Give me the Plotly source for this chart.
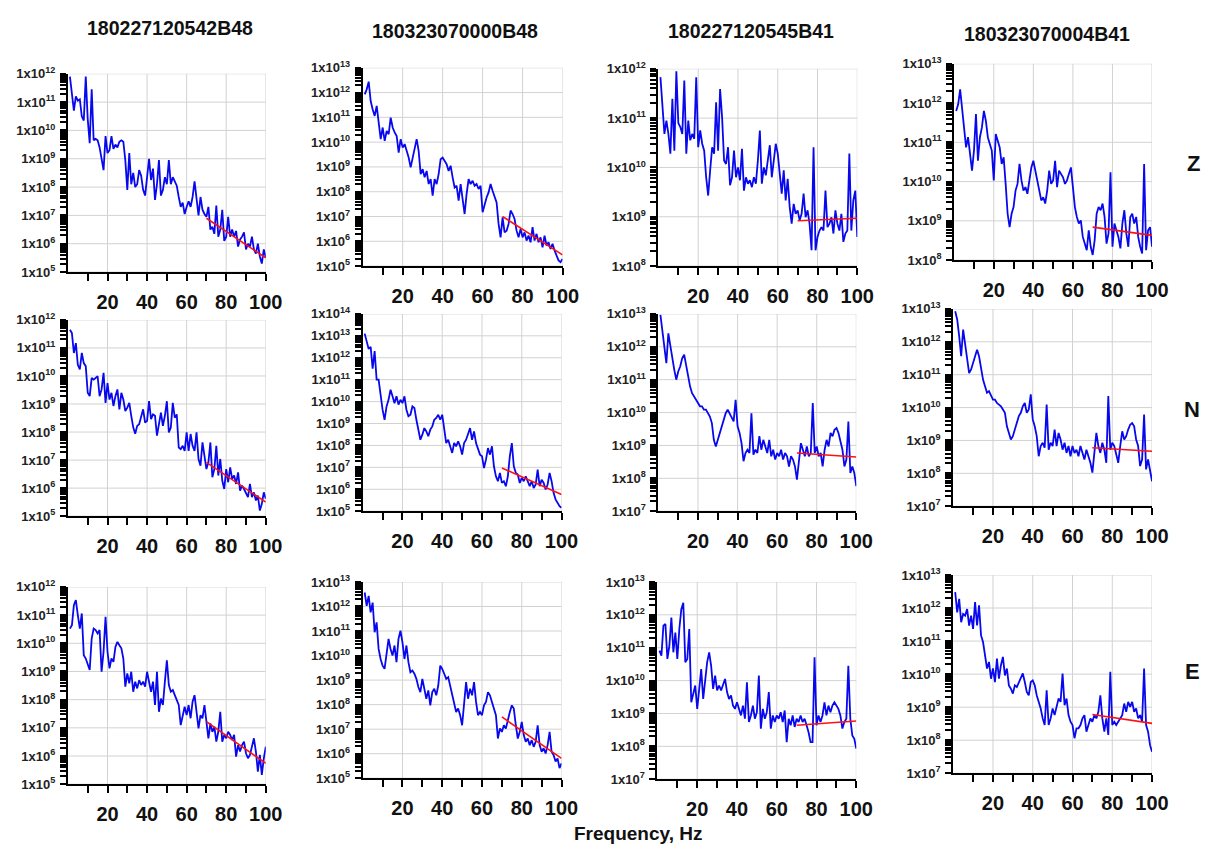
import plotly.graph_objects as go

W, H = 1219, 854
FONT = "Liberation Sans"

stations = ["180227120542B48", "180323070000B48", "180227120545B41", "180323070004B41"]
components = ["Z", "N", "E"]
x_axis_title = "Frequency, Hz"

freq_hz = list(range(1, 101))
fit_freq_hz = [70, 100]
x_tick_vals = [10, 20, 30, 40, 50, 60, 70, 80, 90, 100]
x_tick_text = ["", "20", "", "40", "", "60", "", "80", "", "100"]
x_grid_vals = [20, 40, 60, 80, 100]
minor_mantissas = [2, 3, 4, 5, 6, 7, 8, 9]

# Spectral amplitude, in decades (log10 of the value)
Z_120542B48 = [11.9, 11.3, 10.7, 11.2, 11.05, 11.1, 10.5, 10.35, 11.9, 10.4,
               9.55, 11.45, 9.65, 9.7, 9.65, 9.4, 8.95, 8.6, 9.8, 9.2,
               9.3, 9.8, 9.35, 9.5, 9.4, 9.6, 9.65, 9.6, 8.95, 7.9,
               9.2, 8.1, 8.5, 8.0, 8.1, 8.6, 8.4, 7.9, 7.7, 8.25,
               9.0, 8.25, 8.65, 7.55, 8.1, 8.95, 7.7, 7.9, 8.35, 8.1,
               8.95, 8.1, 8.35, 8.2, 8.05, 7.65, 7.3, 7.45, 7.05, 7.3,
               7.5, 7.3, 7.65, 8.2, 7.65, 7.0, 7.65, 7.2, 7.05, 6.95,
               7.3, 6.5, 6.6, 6.35, 7.35, 6.25, 6.5, 7.2, 6.1, 6.25,
               6.95, 6.25, 6.5, 6.25, 6.45, 5.9, 6.15, 6.25, 6.4, 5.8,
               6.0, 5.9, 6.25, 5.8, 5.65, 6.0, 5.55, 5.3, 5.8, 5.5]
Z_070000B48 = [11.93, 12.13, 12.44, 11.66, 11.32, 11.06, 11.46, 10.79, 10.12, 10.59,
               10.05, 10.45, 10.32, 10.99, 10.59, 10.39, 10.25, 9.58, 10.12, 9.78,
               9.92, 9.65, 9.38, 8.98, 9.38, 9.78, 10.12, 9.65, 8.71, 8.91,
               8.58, 8.84, 8.31, 8.51, 7.84, 8.51, 8.31, 8.71, 9.31, 9.38,
               9.25, 9.11, 8.84, 9.05, 8.58, 8.17, 8.24, 7.64, 8.31, 7.71,
               7.10, 7.91, 8.51, 8.31, 8.44, 8.24, 8.31, 8.11, 8.24, 7.17,
               7.50, 7.77, 7.97, 8.31, 8.04, 7.77, 7.57, 6.70, 6.16, 6.97,
               6.36, 6.43, 6.70, 7.24, 7.10, 6.90, 6.43, 6.16, 6.50, 6.16,
               6.36, 6.03, 6.23, 5.96, 6.57, 6.03, 6.30, 5.96, 6.16, 5.76,
               6.23, 5.83, 5.96, 5.69, 5.90, 5.63, 5.43, 5.23, 5.16, 5.29]
Z_120545B41 = [11.83, 11.26, 10.68, 10.95, 10.68, 10.28, 11.39, 10.34, 11.95, 10.9,
               10.82, 10.68, 11.76, 10.28, 10.95, 10.55, 10.68, 10.58, 11.83, 10.41,
               10.75, 10.48, 10.34, 9.80, 9.43, 9.94, 10.41, 10.28, 11.32, 10.34,
               11.59, 11.02, 10.14, 10.07, 10.41, 9.64, 9.80, 10.34, 9.80, 10.0,
               9.74, 10.38, 9.53, 9.80, 9.67, 9.74, 9.60, 9.80, 9.67, 10.14,
               10.75, 9.67, 10.0, 9.84, 10.14, 10.45, 9.80, 10.14, 10.48, 10.28,
               9.91, 9.47, 9.94, 9.33, 9.77, 9.20, 8.86, 9.26, 9.06, 9.13,
               8.93, 9.06, 9.47, 8.99, 9.13, 8.86, 8.32, 10.41, 8.32, 8.59,
               8.72, 8.79, 8.72, 9.53, 8.79, 8.86, 8.99, 8.66, 9.13, 8.86,
               8.72, 9.06, 8.49, 8.66, 8.72, 10.28, 8.72, 9.33, 9.53, 8.59]
Z_070004B41 = [11.80, 11.97, 12.35, 11.89, 11.38, 10.87, 11.13, 10.70, 10.28, 10.79,
               11.72, 10.53, 11.13, 11.38, 11.80, 11.55, 11.13, 10.96, 10.79, 10.03,
               11.21, 11.04, 10.87, 10.45, 10.62, 9.94, 9.18, 8.84, 9.18, 9.35,
               9.77, 9.94, 10.45, 10.03, 9.77, 9.86, 9.69, 10.03, 10.36, 10.53,
               10.28, 9.94, 9.69, 9.52, 9.60, 9.44, 9.77, 10.28, 9.94, 10.03,
               10.53, 9.86, 10.28, 10.20, 10.11, 9.94, 10.03, 10.20, 10.36, 9.86,
               9.35, 9.10, 8.93, 9.01, 8.59, 8.42, 8.25, 8.76, 8.34, 8.13,
               8.51, 9.18, 9.35, 9.27, 9.44, 9.10, 8.42, 8.68, 10.24, 8.34,
               8.93, 8.76, 8.59, 8.30, 8.93, 9.27, 8.68, 8.34, 9.10, 9.18,
               8.93, 9.10, 8.59, 8.34, 8.17, 10.45, 8.25, 8.76, 8.84, 8.34]
N_120542B48 = [11.65, 11.53, 10.82, 11.17, 10.40, 10.23, 10.82, 10.46, 10.35, 9.40,
               9.28, 9.93, 9.87, 9.93, 9.99, 9.28, 9.52, 10.11, 9.04, 9.75,
               9.16, 9.40, 8.93, 9.28, 9.52, 8.81, 9.40, 9.16, 8.75, 8.87,
               9.04, 8.58, 8.17, 7.94, 8.22, 8.28, 8.52, 8.81, 8.34, 8.40,
               9.10, 8.46, 8.63, 8.58, 7.87, 8.34, 8.69, 8.22, 8.58, 9.10,
               7.99, 8.16, 9.04, 8.51, 8.63, 7.45, 7.39, 7.51, 7.33, 7.99,
               7.33, 7.93, 7.51, 7.33, 7.99, 7.04, 6.80, 7.63, 7.15, 6.68,
               6.92, 7.63, 6.39, 6.68, 7.51, 6.45, 7.04, 6.27, 5.97, 6.68,
               6.21, 6.74, 6.33, 6.45, 6.15, 6.56, 5.91, 6.09, 5.97, 5.85,
               5.68, 6.15, 5.68, 5.85, 5.56, 5.73, 5.20, 5.44, 5.85, 5.62]
N_070000B48 = [13.1, 12.7, 12.4, 12.5, 11.5, 12.3, 11.0, 11.0, 10.24, 9.63,
               9.17, 9.78, 10.08, 10.54, 10.24, 9.93, 10.24, 9.86, 10.08, 9.93,
               10.24, 9.63, 9.33, 9.40, 9.78, 9.71, 9.17, 8.72, 8.26, 8.49,
               8.79, 8.64, 8.42, 8.72, 8.87, 9.17, 9.25, 9.40, 9.17, 9.40,
               8.79, 8.11, 8.26, 7.96, 7.66, 8.11, 7.96, 8.19, 7.96, 7.58,
               8.11, 8.26, 8.57, 8.79, 8.26, 8.64, 8.11, 7.81, 7.58, 7.51,
               6.97, 7.35, 7.88, 7.58, 7.96, 7.05, 6.59, 6.37, 6.75, 6.29,
               6.37, 6.14, 6.59, 7.51, 8.11, 7.05, 6.75, 6.67, 6.29, 6.52,
               6.37, 6.59, 6.37, 6.14, 6.37, 6.06, 6.22, 6.90, 6.14, 6.44,
               6.29, 5.99, 6.22, 6.75, 6.37, 5.84, 5.54, 5.38, 5.23, 5.15]
N_120545B41 = [12.97, 12.51, 11.91, 11.50, 12.41, 12.01, 11.60, 11.30, 11.0, 11.25,
               11.40, 11.65, 11.76, 11.40, 11.10, 10.79, 10.59, 10.49, 10.39, 10.29,
               10.19, 10.19, 10.09, 10.09, 9.98, 9.88, 9.68, 9.17, 8.97, 9.17,
               9.43, 9.58, 9.78, 9.98, 10.09, 9.98, 9.88, 9.73, 10.39, 9.58,
               9.38, 9.07, 8.52, 8.77, 8.87, 8.77, 9.98, 8.72, 8.87, 8.77,
               9.28, 8.87, 9.17, 8.97, 8.77, 9.17, 8.67, 8.87, 8.57, 8.77,
               8.67, 8.87, 8.57, 8.77, 8.67, 8.36, 8.67, 8.57, 8.36, 7.96,
               8.57, 9.07, 8.87, 8.67, 8.97, 8.67, 8.77, 10.29, 8.77, 8.97,
               8.67, 8.77, 8.36, 8.87, 9.17, 8.97, 9.38, 9.28, 9.48, 9.53,
               9.38, 9.07, 8.87, 8.36, 8.57, 9.73, 8.16, 8.36, 8.16, 7.76]
N_070004B41 = [12.93, 12.68, 12.17, 11.56, 12.37, 11.97, 11.56, 11.05, 11.16, 11.36,
               11.51, 11.76, 11.56, 11.16, 10.85, 10.65, 10.45, 10.50, 10.35, 10.24,
               10.24, 10.14, 10.09, 10.04, 9.94, 9.84, 9.43, 9.23, 9.03, 9.13,
               9.33, 9.53, 9.74, 9.84, 10.04, 10.14, 9.84, 9.94, 10.40, 9.64,
               9.43, 9.13, 8.52, 8.83, 8.93, 8.78, 10.09, 8.72, 8.93, 8.83,
               9.33, 8.83, 9.23, 9.03, 8.72, 8.93, 8.62, 8.83, 8.52, 8.83,
               8.62, 8.72, 8.52, 8.83, 8.62, 8.42, 8.72, 8.52, 8.32, 8.02,
               8.62, 9.23, 8.83, 8.62, 8.93, 8.72, 8.32, 10.35, 8.72, 8.93,
               8.83, 8.52, 8.32, 8.83, 9.28, 9.03, 9.13, 9.33, 9.48, 9.53,
               9.43, 9.03, 8.83, 8.22, 8.42, 9.79, 8.12, 8.42, 8.12, 7.76]
E_120542B48 = [10.52, 10.64, 11.35, 11.53, 11.0, 10.52, 11.06, 9.58, 9.46, 9.23,
               9.05, 10.17, 10.52, 10.47, 10.35, 10.47, 8.99, 9.70, 10.94, 9.70,
               9.11, 9.46, 9.34, 9.87, 10.05, 9.93, 9.82, 9.46, 8.46, 8.93,
               8.58, 8.99, 8.28, 8.64, 8.40, 8.69, 8.52, 8.64, 8.46, 8.99,
               8.64, 8.28, 8.64, 7.81, 8.99, 7.57, 8.04, 7.81, 8.64, 9.40,
               8.52, 8.28, 8.34, 8.16, 7.93, 7.81, 7.10, 7.45, 7.75, 7.45,
               7.81, 7.34, 7.93, 8.16, 7.45, 6.98, 7.45, 7.34, 7.81, 7.10,
               6.63, 7.16, 6.86, 7.04, 6.51, 6.86, 7.57, 6.51, 6.75, 6.63,
               6.86, 6.75, 6.57, 6.75, 5.98, 6.39, 6.16, 6.39, 6.51, 6.10,
               5.92, 6.04, 6.39, 6.63, 6.16, 5.45, 6.04, 5.33, 5.92, 6.33]
E_070000B48 = [12.57, 12.03, 12.43, 11.76, 12.16, 10.95, 11.35, 10.27, 9.86, 9.59,
               9.46, 10.0, 10.68, 10.27, 10.0, 10.41, 9.73, 10.68, 11.01, 10.54,
               9.86, 10.41, 9.73, 9.32, 9.39, 9.26, 9.05, 8.72, 8.51, 9.05,
               8.58, 8.24, 8.58, 7.97, 8.51, 8.65, 8.38, 8.78, 9.59, 9.46,
               9.26, 9.05, 9.12, 8.78, 8.38, 8.11, 7.70, 7.84, 7.57, 7.16,
               7.97, 8.92, 8.24, 8.65, 8.38, 8.92, 8.11, 7.57, 7.70, 7.57,
               7.97, 8.11, 8.51, 8.38, 8.11, 7.84, 7.57, 6.62, 7.03, 6.89,
               7.16, 7.03, 7.43, 7.70, 7.97, 7.84, 7.16, 6.62, 6.89, 7.30,
               6.76, 6.49, 6.62, 6.35, 6.55, 6.28, 6.49, 7.16, 6.35, 6.08,
               6.22, 6.01, 6.35, 6.89, 6.08, 5.95, 5.68, 5.81, 5.41, 5.61]
E_120545B41 = [10.91, 10.76, 11.67, 11.72, 10.66, 11.06, 11.92, 10.86, 11.46, 10.66,
               11.57, 12.17, 12.37, 10.56, 10.66, 11.57, 9.34, 9.65, 9.85, 9.14,
               9.85, 10.35, 9.44, 9.95, 10.56, 10.86, 10.45, 9.75, 10.15, 9.70,
               9.85, 9.70, 9.85, 10.05, 9.65, 9.44, 9.55, 9.24, 9.14, 9.34,
               9.14, 8.94, 9.24, 8.84, 9.95, 8.74, 8.94, 9.24, 8.84, 9.04,
               10.15, 8.54, 9.14, 8.84, 9.04, 9.65, 8.54, 8.94, 8.74, 8.94,
               8.84, 9.04, 8.74, 9.09, 8.13, 8.84, 8.64, 8.94, 8.59, 8.84,
               8.74, 8.94, 8.74, 8.84, 8.64, 8.43, 8.13, 8.13, 10.71, 8.64,
               8.94, 8.74, 8.94, 9.34, 8.94, 9.24, 9.04, 9.24, 9.34, 9.24,
               9.14, 8.94, 8.54, 8.74, 8.84, 10.45, 8.84, 8.33, 8.23, 7.93]
E_070004B41 = [12.48, 11.87, 12.28, 11.57, 11.82, 11.77, 11.97, 11.47, 11.77, 11.37,
               12.18, 11.47, 12.08, 11.17, 10.97, 10.57, 10.17, 10.37, 9.86, 10.17,
               9.76, 10.47, 9.86, 10.27, 10.52, 9.96, 10.17, 9.66, 9.56, 9.41,
               9.66, 9.61, 9.76, 9.86, 10.02, 9.76, 9.46, 9.36, 9.76, 9.81,
               9.66, 9.36, 9.16, 8.96, 8.66, 8.46, 9.51, 8.46, 8.66, 8.96,
               8.76, 9.06, 9.26, 9.16, 10.02, 9.06, 9.26, 8.76, 8.56, 8.46,
               8.06, 8.36, 8.36, 8.46, 8.66, 8.76, 8.26, 8.46, 8.66, 8.56,
               8.76, 8.66, 8.86, 9.36, 8.66, 8.26, 8.66, 8.16, 10.07, 8.46,
               8.56, 8.46, 8.56, 8.66, 8.76, 9.11, 8.86, 9.16, 9.01, 9.16,
               8.86, 8.96, 8.66, 8.76, 8.56, 10.17, 8.46, 8.26, 7.85, 7.65]

# Red fitted line end values (decades) at 70 Hz and 100 Hz
fit_Z = [[6.9, 5.5], [7.0, 5.45], [8.92, 8.97], [8.84, 8.63]]
fit_N = [[6.92, 5.5], [6.97, 5.76], [8.77, 8.65], [8.78, 8.67]]
fit_E = [[7.22, 5.74], [7.5, 5.81], [8.64, 8.77], [8.78, 8.51]]

# Axis decade ranges (lowest, highest exponent)
decades_Z = [[5, 12], [5, 13], [8, 12], [8, 13]]
decades_N = [[5, 12], [5, 14], [7, 13], [7, 13]]
decades_E = [[5, 12], [5, 13], [7, 13], [7, 13]]

series = [[Z_120542B48, Z_070000B48, Z_120545B41, Z_070004B41],
          [N_120542B48, N_070000B48, N_120545B41, N_070004B41],
          [E_120542B48, E_070000B48, E_120545B41, E_070004B41]]
fits = [fit_Z, fit_N, fit_E]
decades = [decades_Z, decades_N, decades_E]

# The page is drawn about 1203 px wide and 840 px tall, 8 px from the top.
PW, PH, PTOP = 1203.0, 840.0, 8.0


def fx(px):
    return px / PW


def fy(py):
    return 1 - (py - PTOP) / PH


# panel boxes in reference pixels: left, right, top, bottom
boxes = [[(68, 266, 73, 272), (363, 563, 67, 266), (659, 858, 68, 266), (955, 1153, 63, 260)],
         [(68, 266, 320, 517), (363, 562, 314, 512), (659, 857, 314, 512), (954, 1153, 309, 507)],
         [(68, 266, 588, 786), (363, 562, 583, 780), (658, 857, 583, 781), (954, 1153, 576, 775)]]

GRID = "#d2d2d2"
fig = go.Figure()
layout = {}
shapes = []
n = 0
for r in range(3):
    for c in range(4):
        n += 1
        xa = "x" if n == 1 else f"x{n}"
        ya = "y" if n == 1 else f"y{n}"
        xk = "xaxis" if n == 1 else f"xaxis{n}"
        yk = "yaxis" if n == 1 else f"yaxis{n}"
        vals = series[r][c]
        fig.add_trace(go.Scatter(x=freq_hz, y=[10 ** v for v in vals], mode="lines",
                                 line=dict(color="#0808ee", width=1.8),
                                 xaxis=xa, yaxis=ya, showlegend=False, hoverinfo="skip"))
        fig.add_trace(go.Scatter(x=fit_freq_hz, y=[10 ** v for v in fits[r][c]], mode="lines",
                                 line=dict(color="#ff1010", width=1.6),
                                 xaxis=xa, yaxis=ya, showlegend=False, hoverinfo="skip"))
        lo, hi = decades[r][c]
        exps = list(range(lo, hi + 1))
        y_ticks, y_text = [], []
        for e in exps:
            y_ticks.append(10 ** e)
            y_text.append(f"1x10<sup>{e}</sup>")
            if e < hi:
                for m in minor_mantissas:
                    y_ticks.append(m * 10 ** e)
                    y_text.append("")
        l, rr, t, b = boxes[r][c]
        layout[xk] = dict(domain=[fx(l), fx(rr)], anchor=ya, range=[0, 100],
                          tickvals=x_tick_vals, ticktext=x_tick_text,
                          ticks="outside", ticklen=7, tickwidth=2, tickcolor="black",
                          showgrid=False, showline=True, linecolor="black", linewidth=2,
                          zeroline=False,
                          tickfont=dict(family=FONT, size=20, color="#111", weight="bold"),
                          ticklabelstandoff=4)
        layout[yk] = dict(domain=[fy(b), fy(t)], anchor=xa, type="log", range=[lo, hi],
                          tickvals=y_ticks, ticktext=y_text,
                          ticks="outside", ticklen=6, tickwidth=1.5, tickcolor="black",
                          showline=True, linecolor="black", linewidth=2,
                          showgrid=False, zeroline=False,
                          tickfont=dict(family=FONT, size=13, color="#222", weight="bold"),
                          ticklabelstandoff=2)
        # light grid: decades and every 20 Hz
        for e in exps:
            shapes.append(dict(type="line", xref=f"{xa} domain", yref=ya, x0=0, x1=1,
                               y0=10 ** e, y1=10 ** e, line=dict(color=GRID, width=1),
                               layer="below"))
        for v in x_grid_vals:
            shapes.append(dict(type="line", xref=xa, yref=f"{ya} domain", x0=v, x1=v,
                               y0=0, y1=1, line=dict(color=GRID, width=1), layer="below"))

annotations = []
title_pos = [(170, 27), (455, 30), (752, 30), (1048, 33)]
for s, (px, py) in zip(stations, title_pos):
    annotations.append(dict(text=s, x=fx(px), y=fy(py), xref="paper", yref="paper",
                            showarrow=False, xanchor="center", yanchor="middle",
                            font=dict(family=FONT, size=19.5, color="#111", weight="bold")))
row_pos = [163, 410, 673]
for comp, py in zip(components, row_pos):
    annotations.append(dict(text=comp, x=1.0, y=fy(py), xref="paper", yref="paper",
                            showarrow=False, xanchor="right", yanchor="middle",
                            font=dict(family=FONT, size=22, color="#111", weight="bold")))
annotations.append(dict(text=x_axis_title, x=fx(639), y=0.0, xref="paper", yref="paper",
                        showarrow=False, xanchor="center", yanchor="bottom",
                        font=dict(family=FONT, size=19, color="#111", weight="bold")))

fig.update_layout(width=W, height=H, margin=dict(l=0, r=0, t=0, b=0),
                  paper_bgcolor="white", plot_bgcolor="white",
                  annotations=annotations, shapes=shapes, **layout)
fig.write_html("out.html")
